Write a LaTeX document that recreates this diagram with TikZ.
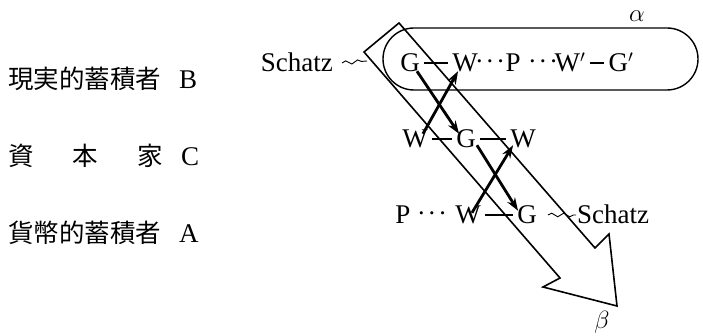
\documentclass[tikz,border=0pt]{standalone}
\usepackage{fontspec}
\setmainfont{Liberation Serif}
\newfontfamily\cjk{Noto Sans CJK JP}
\usetikzlibrary{arrows.meta,decorations.pathmorphing}
\tikzset{hoard/.style={x=1pt,y=-1pt,font=\fontsize{27}{32}\selectfont},
  sym/.style={inner sep=1pt,text height=18pt,text depth=0pt,anchor=base},
  dots/.style={inner sep=0pt,anchor=base,font=\fontsize{20}{24}\selectfont\boldmath},
  bond/.style={line width=1.1pt,shorten <=3pt,shorten >=3pt},
  flow/.style={line width=2.8pt,-{Stealth[length=13pt,width=9pt]}},
  wave/.style={line width=0.9pt,decorate,decoration={snake,amplitude=1.8pt,segment length=12pt}},
  band/.style={line width=1.6pt,line join=miter},
  capsule/.style={line width=1.4pt,rounded corners=31pt},
  lbl/.style={anchor=base west,inner sep=0pt}}

\begin{document}
\begin{tikzpicture}[hoard]
    \useasboundingbox (0,0) rectangle (703,336);
    % the three kinds of owner
    \node[lbl] (lblB) at (8,89) {{\cjk\fontsize{25.5}{30}\selectfont 現実的蓄積者}\hspace{18pt}B};
    \node[lbl] (lblC) at (8,166) {\makebox[155pt][s]{\cjk\fontsize{25.5}{30}\selectfont 資\hfill 本\hfill 家}\hspace{18pt}C};
    \node[lbl] (lblA) at (8,243) {{\cjk\fontsize{25.5}{30}\selectfont 貨幣的蓄積者}\hspace{18pt}A};
    % hoard band beta
    \coordinate (bandN) at (399,23);
    \coordinate (bandW) at (364,52);
    \draw[band] (bandN) -- (bandW) -- (560,278) -- (543,287) -- (617,306)
      -- (609,234) -- (595,248) -- cycle;
    \node (beta) at (602,322) {$\beta$};
    % circuit alpha
    \draw[capsule] (383,28) rectangle (698,90);
    \node (alpha) at (637,16) {$\alpha$};
    % row of B
    \node[sym] (G1) at (410,72) {G};
    \node[sym] (W1) at (465,72) {W};
    \node[dots] (dotsA) at (490,67) {$\cdots$};
    \node[sym] (P1) at (513,72) {P};
    \node[dots] (dotsB) at (543,67) {$\cdots$};
    \node[sym] (W1p) at (570,72) {W$'$};
    \node[sym] (G1p) at (621,72) {G$'$};
    \draw[bond] (G1) -- (W1);
    \draw[bond] (W1p) -- (G1p);
    % row of C
    \node[sym] (W2) at (415,148) {W};
    \node[sym] (G2) at (466,148) {G};
    \node[sym] (W3) at (523,148) {W};
    \draw[bond] (W2) -- (G2);
    \draw[bond] (G2) -- (W3);
    % row of A
    \node[sym] (P3) at (403,224) {P};
    \node[dots] (dotsC) at (432,219) {$\cdots$};
    \node[sym] (W4) at (468,224) {W};
    \node[sym] (G3) at (527,224) {G};
    \draw[bond] (W4) -- (G3);
    % hoards in and out
    \node[sym,anchor=base east] (schatzA) at (334,72) {Schatz};
    \node[sym,anchor=base west] (schatzB) at (576,224) {Schatz};
    \coordinate (hoardIn) at (367,61);
    \draw[wave] ([xshift=8pt]schatzA.east) -- (hoardIn);
    \draw[wave] ([xshift=10pt]G3.east) -- (schatzB.west);
    % exchanges between the owners
    \draw[flow] ([xshift=-4pt,yshift=2pt]G1.south east) -- ([xshift=4pt,yshift=-5pt]G2.north west);
    \draw[flow] ([xshift=-6pt,yshift=-5pt]W2.north east) -- ([xshift=7pt,yshift=2pt]W1.south west);
    \draw[flow] ([yshift=4pt]G2.south east) -- ([xshift=2pt,yshift=-6pt]G3.north west);
    \draw[flow] ([xshift=-10pt,yshift=-8pt]W4.north east) -- ([xshift=4pt,yshift=4pt]W3.south west);
\end{tikzpicture}
\end{document}
